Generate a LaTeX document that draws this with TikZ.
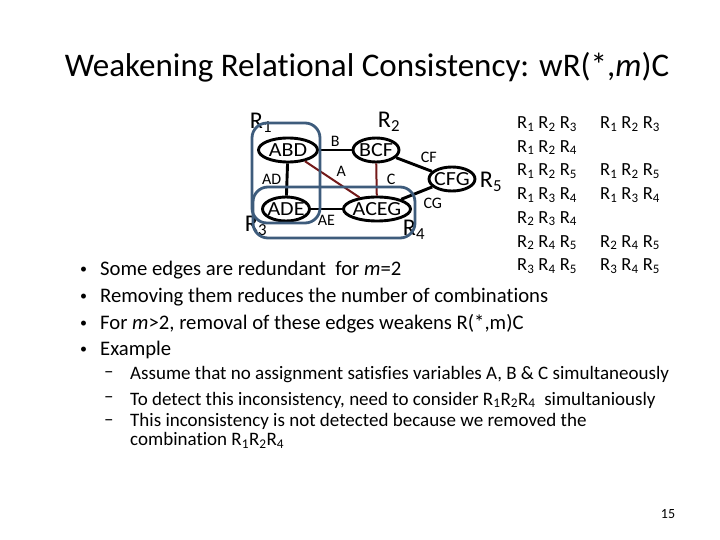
\documentclass[tikz,border=0pt]{standalone}
\usepackage{fontspec}
\setmainfont{Carlito}[Ligatures=NoCommon]
\newfontfamily\relfont{Carlito}[FakeStretch=1.1]
\usetikzlibrary{positioning,shapes.geometric}
\definecolor{hullblue}{RGB}{62,92,124}
\definecolor{edgered}{RGB}{115,25,25}
\newcommand{\Rr}[1]{R\textsubscript{#1}}
\newcommand{\fs}[1]{\fontsize{#1}{#1}\selectfont}

\begin{document}
\begin{tikzpicture}[x=1pt, y=-1pt,
        rel/.style={ellipse, draw, line width=2.9pt, inner xsep=-8pt, inner ysep=0pt,
                    minimum height=24pt, font=\relfont\fs{20}},
        link/.style={line width=2.9pt},
        redlink/.style={line width=2pt, draw=edgered},
        lbl/.style={font=\fs{16}},
        rname/.style={font=\fs{24}, inner sep=0pt},
        hull/.style={draw=hullblue, line width=2.8pt, rounded corners=15pt},
        item/.style={anchor=west, inner sep=0pt, font=\fs{20.7}},
        subitem/.style={anchor=west, inner sep=0pt, font=\fs{19}},
        combo/.style={anchor=west, inner sep=0pt, font=\fs{18.5}}]
    \useasboundingbox (0,0) rectangle (720,540);

    \node[font=\fs{33}] (ttl) at (367,67) {Weakening Relational Consistency: wR(*,\textit{m})C};

    % the constraint graph
    \node[rel, minimum width=59pt] (abd) at (288,150) {ABD};
    \node[rel, minimum width=46pt] (bcf) at (376,150) {BCF};
    \node[rel, minimum width=46pt] (cfg) at (452,179) {CFG};
    \node[rel, minimum width=47pt] (ade) at (286,209) {ADE};
    \node[rel, minimum width=67pt] (aceg) at (377,209) {ACEG};

    \draw[link] (abd) -- node[lbl, above=-1pt] {B} (bcf);
    \draw[link] (abd) -- node[lbl, left=1pt] {AD} (ade);
    \draw[link] (ade) -- node[lbl, below=1pt] {AE} (aceg);
    \draw[link] (bcf) -- node[lbl, above right=-3pt and 2pt] {CF} (cfg);
    \draw[link] (cfg) -- node[lbl, below right=0pt and 2pt] {CG} (aceg);
    \draw[redlink] (abd) -- node[lbl, above right=-2pt and 0pt] {A} (aceg);
    \draw[redlink] (bcf) -- node[lbl, right=6pt] {C} (aceg);

    \node[rname] (r1) at (261,123) {\Rr{1}};
    \node[rname] (r2) at (389,122) {\Rr{2}};
    \node[rname] (r3) at (256,226) {\Rr{3}};
    \node[rname] (r4) at (414,230) {\Rr{4}};
    \node[rname] (r5) at (491,182) {\Rr{5}};

    \draw[hull] (252,123) rectangle (320,223);
    \draw[hull] (253,187) rectangle (415,238);

    % combinations
    \foreach \a/\b/\c [count=\i from 0] in {1/2/3, 1/2/4, 1/2/5, 1/3/4, 2/3/4, 2/4/5, 3/4/5}
        \node[combo] (all-\i) at (517,124+23.7*\i) {\Rr{\a} \Rr{\b} \Rr{\c}};
    \foreach \a/\b/\c/\i in {1/2/3/0, 1/2/5/2, 1/3/4/3, 2/4/5/5, 3/4/5/6}
        \node[combo] (kept-\i) at (600,124+23.7*\i) {\Rr{\a} \Rr{\b} \Rr{\c}};

    % bullets
    \foreach \t/\y [count=\i] in {{Some edges are redundant\ \ for \textit{m}=2}/270,
            {Removing them reduces the number of combinations}/297,
            {For \textit{m}>2, removal of these edges weakens R(*,m)C}/324,
            {Example}/350}{
        \node[item, font=\fs{14}] (dot-\i) at (80,\y) {\textbullet};
        \node[item] (pt-\i) at (100,\y) {\t};
    }
    \node[subitem] (d1) at (104,375) {--};
    \node[subitem] (s1) at (130,375) {Assume that no assignment satisfies variables A, B \& C simultaneously};
    \node[subitem] (d2) at (104,400) {--};
    \node[subitem] (s2) at (130,400) {To detect this inconsistency, need to consider \Rr{1}\Rr{2}\Rr{4}\ \ simultaniously};
    \node[subitem] (d3) at (104,423) {--};
    \node[subitem, anchor=north west, align=left, font=\fontsize{19}{19.5}\selectfont] (s3) at (130,413)
        {This inconsistency is not detected because we removed the\\combination \Rr{1}\Rr{2}\Rr{4}};

    \node[font=\fs{14}] (pg) at (668,514) {15};
\end{tikzpicture}
\end{document}
